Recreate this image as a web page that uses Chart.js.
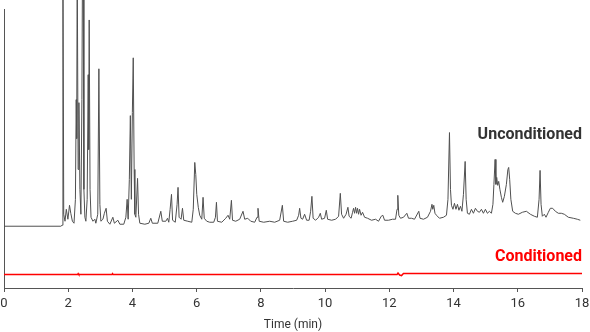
<!DOCTYPE html>
<html>
<head>
<meta charset="utf-8">
<script src="https://cdn.jsdelivr.net/npm/chart.js@4"></script>
<style>
  body { margin: 0; background: #fff; }
  #wrap { width: 590px; height: 332px; }
</style>
</head>
<body>
<div id="wrap"><canvas id="grafico"></canvas></div>
<script>
const uncTime = [0, 1.77, 1.81, 1.835, 1.86, 1.90, 1.94, 1.99, 2.04, 2.08, 2.13, 2.18, 2.224, 2.249, 2.264, 2.28, 2.308, 2.333, 2.364, 2.395,
  2.426, 2.445, 2.467, 2.488, 2.519, 2.55, 2.59, 2.622, 2.637, 2.653, 2.68, 2.71, 2.77, 2.83, 2.86, 2.92, 2.955, 2.986, 3.017, 3.08,
  3.126, 3.18, 3.22, 3.297, 3.39, 3.437, 3.546, 3.608, 3.73, 3.795, 3.835, 3.866, 3.903, 3.935, 3.966, 3.997, 4.025, 4.053, 4.075, 4.106,
  4.159, 4.19, 4.23, 4.386, 4.51, 4.572, 4.62, 4.79, 4.883, 4.93, 5.039, 5.092, 5.132, 5.173, 5.216, 5.25, 5.334, 5.39, 5.42, 5.453,
  5.515, 5.558, 5.598, 5.723, 5.848, 5.894, 5.941, 5.972, 6.003, 6.05, 6.096, 6.159, 6.199, 6.236, 6.314, 6.407, 6.532, 6.585, 6.616, 6.647,
  6.781, 6.905, 6.977, 7.03, 7.082, 7.116, 7.216, 7.34, 7.443, 7.496, 7.59, 7.683, 7.807, 7.879, 7.91, 7.947, 8.087, 8.274, 8.43, 8.585,
  8.669, 8.709, 8.834, 8.989, 9.114, 9.176, 9.207, 9.247, 9.30, 9.362, 9.424, 9.502, 9.549, 9.589, 9.627, 9.705, 9.798, 9.851, 9.891, 9.984,
  10.037, 10.078, 10.202, 10.327, 10.42, 10.473, 10.513, 10.576, 10.653, 10.71, 10.747, 10.81, 10.855, 10.886, 10.917, 10.949, 10.98, 11.01, 11.042, 11.073,
  11.12, 11.166, 11.229, 11.322, 11.446, 11.571, 11.664, 11.748, 11.798, 11.851, 11.975, 12.1, 12.193, 12.24, 12.264, 12.295, 12.348, 12.442, 12.545, 12.597,
  12.69, 12.784, 12.918, 12.955, 13.064, 13.188, 13.282, 13.328, 13.353, 13.384, 13.421, 13.468, 13.561, 13.686, 13.779, 13.826, 13.873, 13.904, 13.935, 13.981,
  14.028, 14.075, 14.121, 14.168, 14.215, 14.261, 14.308, 14.361, 14.392, 14.432, 14.495, 14.557, 14.619, 14.681, 14.743, 14.806, 14.868, 14.93, 14.992, 15.054,
  15.117, 15.179, 15.226, 15.257, 15.294, 15.319, 15.344, 15.375, 15.406, 15.443, 15.49, 15.53, 15.583, 15.645, 15.692, 15.717, 15.748, 15.785, 15.841, 15.925,
  16.019, 16.143, 16.268, 16.392, 16.516, 16.61, 16.663, 16.694, 16.725, 16.765, 16.827, 16.879, 16.952, 17.014, 17.086, 17.17, 17.263, 17.356, 17.45, 17.574,
  17.729, 17.854, 17.947];
const uncSignal = [62, 62, 63, 330, 74, 67, 79, 69, 83, 75, 67, 65, 89, 189, 150, 330, 119, 186, 99, 74,
  189, 330, 330, 99, 71, 67, 89, 214, 139, 269, 99, 71, 67, 69, 65, 74, 220, 84, 67, 69,
  75, 80, 67, 64, 71, 65, 68, 64, 64, 71, 89, 69, 109, 173, 89, 176, 231, 119, 74, 71,
  110, 74, 65, 64, 65, 70, 65, 65, 77, 67, 67, 70, 66, 79, 94, 68, 66, 84, 101, 71,
  69, 80, 68, 67, 66, 79, 126, 114, 94, 81, 73, 69, 91, 70, 67, 66, 66, 71, 86, 67,
  66, 70, 73, 69, 88, 68, 67, 69, 77, 69, 70, 67, 66, 71, 80, 67, 66, 67, 66, 68,
  83, 67, 66, 67, 68, 73, 80, 70, 69, 74, 68, 68, 77, 92, 70, 68, 71, 75, 69, 70,
  78, 69, 68, 69, 72, 95, 74, 70, 74, 81, 72, 70, 76, 80, 75, 81, 75, 80, 74, 79,
  73, 76, 71, 70, 68, 69, 67, 72, 73, 68, 68, 69, 69, 79, 93, 73, 70, 71, 75, 70,
  70, 69, 77, 70, 69, 71, 77, 84, 79, 83, 75, 73, 70, 71, 73, 89, 156, 99, 83, 79,
  85, 79, 84, 78, 82, 77, 94, 127, 89, 75, 74, 79, 75, 80, 77, 76, 79, 75, 79, 75,
  77, 75, 84, 104, 129, 104, 111, 103, 107, 99, 91, 86, 92, 104, 119, 121, 109, 89, 77, 75,
  74, 76, 77, 74, 72, 71, 89, 118, 84, 72, 74, 71, 76, 80, 80, 77, 75, 75, 74, 71,
  70, 69, 68];

const condTime = [0, 2.29, 2.31, 2.33, 3.36, 3.38, 3.40, 12.24, 12.27, 12.32, 12.38, 12.44, 18];
const condSignal = [13.5, 13.5, 14.5, 13.5, 13.5, 14.5, 13.5, 13.5, 15, 13, 12.5, 14.5, 14.5];

const xTicks = [0, 2, 4, 6, 8, 10, 12, 14, 16, 18];
const seriesLabels = ['Unconditioned', 'Conditioned'];

function aPuntos(tiempos, valores) {
  return tiempos.map((t, i) => ({ x: t, y: valores[i] }));
}

const fuente = 'Roboto, "Liberation Sans", sans-serif';

// rotulos de cada serie, alineados a la derecha del area del grafico
const etiquetas = {
  id: 'etiquetas',
  afterDatasetsDraw(chart) {
    const { ctx, chartArea, scales } = chart;
    ctx.save();
    ctx.font = 'bold 16px ' + fuente;
    ctx.textAlign = 'right';
    ctx.textBaseline = 'middle';
    ctx.fillStyle = '#333333';
    ctx.fillText(seriesLabels[0], chartArea.right, scales.y.getPixelForValue(154));
    ctx.fillStyle = '#ff0000';
    ctx.fillText(seriesLabels[1], chartArea.right, scales.y.getPixelForValue(31));
    ctx.restore();
  }
};

new Chart(document.getElementById('grafico'), {
  type: 'line',
  data: {
    datasets: [{
      label: seriesLabels[0],
      data: aPuntos(uncTime, uncSignal),
      borderColor: '#505050',
      borderWidth: 1,
      pointRadius: 0,
      tension: 0,
      clip: false
    }, {
      label: seriesLabels[1],
      data: aPuntos(condTime, condSignal),
      borderColor: '#ff0000',
      borderWidth: 1.5,
      pointRadius: 0,
      tension: 0
    }]
  },
  options: {
    responsive: true,
    maintainAspectRatio: false,
    animation: false,
    layout: { padding: { top: 9, right: 0, left: 0, bottom: 0 } },
    plugins: { legend: { display: false }, tooltip: { enabled: false } },
    scales: {
      x: {
        type: 'linear',
        min: 0,
        max: 18,
        afterBuildTicks: (s) => { s.ticks = xTicks.map(v => ({ value: v })); },
        afterFit: (s) => { s.paddingLeft = 4; s.paddingRight = 8; },
        ticks: { color: '#333', font: { family: fuente, size: 13 }, padding: 4, maxRotation: 0 },
        grid: { display: true, drawOnChartArea: false, tickLength: 4, color: '#555' },
        border: { color: '#555', width: 1 },
        title: { display: true, text: 'Time (min)', color: '#333', font: { family: fuente, size: 12 }, padding: { top: 2, bottom: 0 } }
      },
      y: {
        min: 0,
        max: 280,
        ticks: { display: false },
        grid: { display: false, drawTicks: false },
        border: { display: true, color: '#555', width: 1 }
      }
    }
  },
  plugins: [etiquetas]
});
</script>
</body>
</html>
